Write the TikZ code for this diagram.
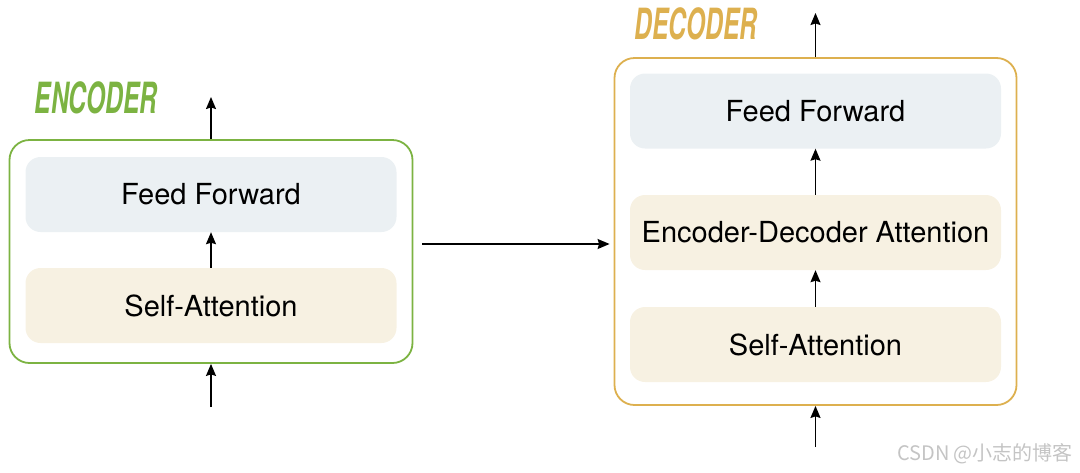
\documentclass[tikz,border=0pt]{standalone}
\usepackage{fontspec}
\setmainfont{TeX Gyre Heros}
\newfontfamily\cjk{Noto Sans CJK SC}
\usepackage{graphicx}
\usepackage{tikz}
\usetikzlibrary{positioning,arrows.meta}
\definecolor{enc}{HTML}{7CB342}
\definecolor{dec}{HTML}{DDB04F}
\definecolor{ffill}{HTML}{EBF0F3}
\definecolor{safill}{HTML}{F7F1E2}
\definecolor{mark}{HTML}{C4C4C4}
\begin{document}
\begin{tikzpicture}[x=1pt,y=-1pt,
  frame/.style={draw, line width=1.8pt, rounded corners=20pt, minimum width=#1},
  layer/.style={rounded corners=15pt, minimum width=371pt, minimum height=75pt, font=\fontsize{29}{32}\selectfont},
  title/.style={font=\fontsize{43}{45}\selectfont\bfseries\itshape},
  flow/.style={-{Stealth[length=12pt,width=10pt,inset=1.5pt]}, line width=1.4pt}]
\useasboundingbox (0,0) rectangle (1080,472);
\node[frame=403pt, enc, minimum height=223pt] (encoder) at (211,251.5) {};
\node[layer, fill=ffill] (encff) at (211,194.5) {Feed Forward};
\node[layer, fill=safill] (encsa) at (211,305.5) {Self-Attention};
\node[title, text=enc] (enctitle) at (96,98) {\scalebox{0.57}[1]{ENCODER}};
\coordinate (encin) at (211,407);
\coordinate (encout) at (211,97);
\draw[flow] (encin) -- (encoder.south);
\draw[flow] (encsa.north) -- (encff.south);
\draw[flow] (encoder.north) -- (encout);
\node[frame=402pt, dec, minimum height=347pt] (decoder) at (815.5,231.5) {};
\node[layer, fill=ffill] (decff) at (815.5,111) {Feed Forward};
\node[layer, fill=safill] (deceda) at (815.5,232.5) {Encoder-Decoder Attention};
\node[layer, fill=safill] (decsa) at (815.5,344.5) {Self-Attention};
\node[title, text=dec] (dectitle) at (696,24) {\scalebox{0.57}[1]{DECODER}};
\coordinate (decin) at (815.5,447);
\coordinate (decout) at (815.5,13);
\draw[flow] (decin) -- (decoder.south);
\draw[flow] (decsa.north) -- (deceda.south);
\draw[flow] (deceda.north) -- (decff.south);
\draw[flow] (decoder.north) -- (decout);
\coordinate (link) at (422,244);
\draw[flow, shorten >=4pt] (link) -- (link -| decoder.west);
\node[text=mark, font=\cjk\fontsize{20}{22}\selectfont] (watermark) at (985,454) {CSDN @小志的博客};
\end{tikzpicture}
\end{document}
